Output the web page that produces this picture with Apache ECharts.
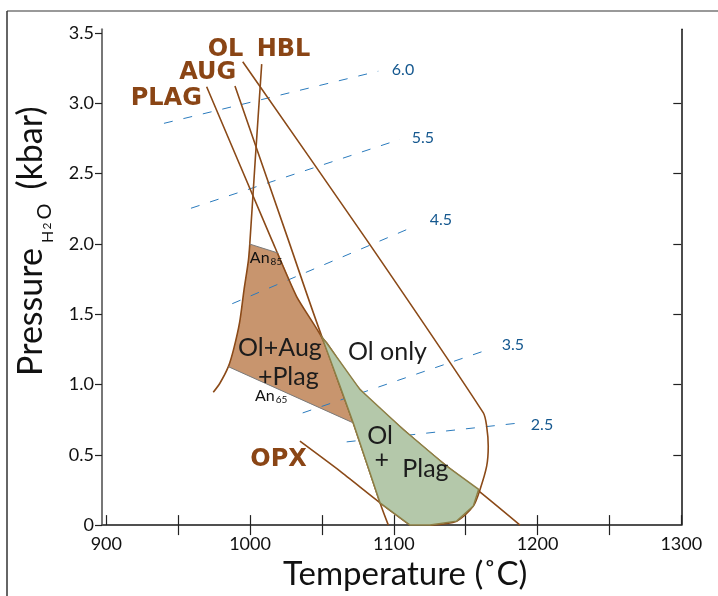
<!DOCTYPE html>
<html>
<head>
<meta charset="utf-8">
<script src="https://cdn.jsdelivr.net/npm/echarts@6/dist/echarts.min.js"></script>
<style>
  html, body { margin: 0; padding: 0; background: #fff; }
  #chart { width: 718px; height: 596px; }
</style>
</head>
<body>
<div id="chart"></div>
<script>
// axis ticks
const tempTicks = [900, 950, 1000, 1050, 1100, 1150, 1200, 1250, 1300];
const tempLabels = [900, 1000, 1100, 1200, 1300];
const presTicks = [0, 0.5, 1.0, 1.5, 2.0, 2.5, 3.0, 3.5];

// phase boundaries [T (°C), P (kbar)]
const plagLine = [[969.8, 3.118], [1015.1, 2.029], [1032.4, 1.626], [1050.0, 1.333], [1062.6, 0.987], [1071.8, 0.727], [1090.4, 0.159], [1096.2, 0]];
const augLine = [[989.5, 3.123], [1026.6, 2.029], [1050.0, 1.340], [1053.3, 1.295], [1076.5, 0.964], [1106.6, 0.680], [1136.8, 0.419], [1157.7, 0.254], [1187.8, 0]];
const olLine = [[994.9, 3.296], [1081.1, 2.029], [1162.3, 0.798], [1164.6, 0.703], [1165.7, 0.561], [1164.6, 0.419], [1160.0, 0.254], [1155.3, 0.135], [1143.7, 0.028], [1125.2, 0]];
const hblLine = [[1008.1, 3.279], [1003.6, 2.597], [1000.0, 2.029], [998.9, 1.887], [995.8, 1.674], [992.7, 1.440], [988.5, 1.248], [984.9, 1.127], [979.1, 1.011], [974.4, 0.945]];
const opxLine = [[1034.7, 0.597], [1062.6, 0.384], [1090.4, 0.159], [1111.3, 0]];
const an85Line = [[999.5, 2.0], [1019.6, 1.935]];
const an65Line = [[984.9, 1.127], [1071.8, 0.727]];

// fields
const brownArea = [[999.5, 2.0], [1019.6, 1.935], [1032.4, 1.626], [1050.0, 1.333], [1062.6, 0.987], [1071.8, 0.727], [984.9, 1.127], [988.5, 1.248], [992.7, 1.440], [995.8, 1.674], [998.9, 1.887]];
const greenArea = [[1050.0, 1.337], [1053.3, 1.295], [1076.5, 0.964], [1106.6, 0.680], [1136.8, 0.419], [1159.0, 0.254], [1155.3, 0.135], [1143.7, 0.028], [1125.2, 0], [1111.3, 0], [1090.4, 0.159], [1071.8, 0.727], [1062.6, 0.987]];

// water content isopleths
const waterLabels = ['6.0', '5.5', '4.5', '3.5', '2.5'];
const waterStart = [[940.1, 2.858], [958.9, 2.254], [987.6, 1.575], [1036.6, 0.798], [1067.2, 0.592]];
const waterEnd = [[1089.2, 3.229], [1104.3, 2.744], [1114.0, 2.124], [1166.9, 1.253], [1187.8, 0.727]];
const waterLabelPos = [[1106.4, 3.237], [1120.3, 2.754], [1132.8, 2.171], [1182.9, 1.283], [1203.1, 0.715]];

// phase names
const phaseNames = ['OL', 'HBL', 'AUG', 'PLAG', 'OPX'];
const phasePos = [[982.9, 3.383], [1023.3, 3.383], [970.6, 3.217], [941.7, 3.036], [1019.8, 0.467]];

// field names
const fieldNames = ['Ol+Aug', '+Plag', 'Ol only', 'Ol', '+', 'Plag'];
const fieldPos = [[1020.8, 1.262], [1026.6, 1.056], [1095.6, 1.234], [1090.4, 0.637], [1091.6, 0.46], [1122.0, 0.396]];

const anNames = ['85', '65'];
const anPos = [[1011.1, 1.901], [1014.7, 0.921]];

const FONT = 'Lato';
const BROWN = '#8b4a18';

const chart = echarts.init(document.getElementById('chart'));

const boundary = (data, smooth) => ({
    type: 'line',
    data: data,
    smooth: smooth,
    symbol: 'none',
    silent: true,
    z: 3,
    lineStyle: { color: BROWN, width: 1.6 }
});

const area = (pts, style, z) => ({
    type: 'custom',
    data: pts,
    encode: { x: 0, y: 1 },
    silent: true,
    z: z,
    renderItem: (params, api) => {
        if (params.dataIndex !== 0) return null;
        return {
            type: 'polygon',
            shape: { points: pts.map(p => api.coord(p)) },
            style: style
        };
    }
});

const series = [
    area(brownArea, { fill: '#c8956e' }, 1),
    boundary(plagLine, 0.2),
    boundary(augLine, 0.3),
    boundary(olLine, 0.25),
    boundary(hblLine, 0.3),
    boundary(opxLine, 0.2),
    area(greenArea, { fill: '#b4c8aa', stroke: '#8d7f45', lineWidth: 1.5 }, 4),
    {
        type: 'line', data: an85Line, symbol: 'none', silent: true, z: 3,
        lineStyle: { color: '#7a7a7a', width: 1 }
    },
    {
        type: 'line', data: an65Line, symbol: 'none', silent: true, z: 3,
        lineStyle: { color: '#7a7a7a', width: 1 }
    }
];

waterLabels.forEach((lab, i) => {
    series.push({
        type: 'line',
        data: [waterStart[i], waterEnd[i]],
        symbol: 'none',
        silent: true,
        z: 2,
        lineStyle: { color: '#2b7bbd', width: 1, type: [9, 11] }
    });
});

const plain = { textBorderWidth: 0, textShadowBlur: 0, opacity: 1 };
const textItems = [];
phaseNames.forEach((n, i) => textItems.push({
    name: n, value: phasePos[i],
    label: Object.assign({ fontFamily: 'DejaVu Sans', fontWeight: 'bold', fontSize: 24, color: '#8a4515' }, plain)
}));
fieldNames.forEach((n, i) => textItems.push({
    name: n, value: fieldPos[i],
    label: Object.assign({ fontFamily: FONT, fontSize: 25, color: '#1c1c1c' }, plain)
}));
waterLabels.forEach((n, i) => textItems.push({
    name: n, value: waterLabelPos[i],
    label: Object.assign({ fontFamily: FONT, fontSize: 16, color: '#15588f' }, plain)
}));
anNames.forEach((n, i) => textItems.push({
    name: 'An' + n, value: anPos[i],
    label: Object.assign({
        formatter: '{a|An}{s|' + n + '}',
        rich: {
            a: { fontFamily: FONT, fontSize: 16, color: '#111', lineHeight: 18 },
            s: { fontFamily: FONT, fontSize: 10, color: '#111', lineHeight: 18, verticalAlign: 'bottom', padding: [6, 0, 0, 1] }
        }
    }, plain)
}));

series.push({
    type: 'scatter',
    symbolSize: 0.1,
    silent: true,
    z: 6,
    itemStyle: { color: '#000', opacity: 1 },
    label: { show: true, position: 'inside', formatter: '{b}' },
    data: textItems
});

chart.setOption({
    animation: false,
    grid: { left: 102, right: 36.7, top: 29.3, bottom: 70.3 },
    xAxis: [{
        type: 'value',
        position: 'bottom',
        min: 897,
        max: 1300,
        name: 'Temperature (˚C)',
        nameLocation: 'middle',
        nameGap: 27,
        nameTextStyle: { fontFamily: FONT, fontSize: 33, color: '#111', padding: [0, 0, 0, 27] },
        axisLine: { lineStyle: { color: '#777', width: 2 } },
        axisTick: { inside: true, length: 10, customValues: tempTicks, lineStyle: { color: '#222', width: 1.2 } },
        axisLabel: { customValues: tempLabels, fontFamily: FONT, fontSize: 18, color: '#111', margin: 10, formatter: v => String(v) },
        splitLine: { show: false }
    }, {
        type: 'value',
        position: 'top',
        min: 897,
        max: 1300,
        axisLine: { lineStyle: { color: '#444', width: 1.5 } },
        axisTick: { inside: true, length: 10, customValues: tempTicks.slice(1, -1), lineStyle: { color: '#222', width: 1.2 } },
        axisLabel: { show: false },
        splitLine: { show: false }
    }],
    yAxis: [{
        type: 'value',
        position: 'left',
        min: 0,
        max: 3.527,
        axisLine: { show: true, lineStyle: { color: '#777', width: 2 } },
        axisTick: { show: true, inside: false, length: 7, customValues: presTicks, lineStyle: { color: '#222', width: 1.2 } },
        axisLabel: {
            customValues: presTicks, fontFamily: FONT, fontSize: 18, color: '#111', margin: 8,
            formatter: v => v === 0 ? '0' : v.toFixed(1)
        },
        splitLine: { show: false }
    }, {
        type: 'value',
        position: 'right',
        min: 0,
        max: 3.527,
        axisLine: { show: true, lineStyle: { color: '#111', width: 1.5 } },
        axisTick: { show: true, inside: true, length: 8, customValues: presTicks.slice(1, -1), lineStyle: { color: '#222', width: 1.2 } },
        axisLabel: { show: false },
        splitLine: { show: false }
    }],
    graphic: [
        { type: 'line', shape: { x1: 7, y1: 11, x2: 718, y2: 11 }, style: { stroke: '#777', lineWidth: 1.5 } },
        { type: 'line', shape: { x1: 7, y1: 11, x2: 7, y2: 596 }, style: { stroke: '#333', lineWidth: 1.5 } },
        { type: 'text', x: 31, y: 312, rotation: Math.PI / 2, style: { text: 'Pressure', font: '34px Lato', fill: '#111', align: 'center', verticalAlign: 'middle' } },
        { type: 'text', x: 48, y: 237, rotation: Math.PI / 2, style: { text: 'H', font: '16px Lato', fill: '#111', align: 'center', verticalAlign: 'middle' } },
        { type: 'text', x: 47, y: 226, rotation: Math.PI / 2, style: { text: '2', font: '12px Lato', fill: '#111', align: 'center', verticalAlign: 'middle' } },
        { type: 'text', x: 45, y: 211.5, rotation: Math.PI / 2, style: { text: 'O', font: '20px Lato', fill: '#111', align: 'center', verticalAlign: 'middle' } },
        { type: 'text', x: 31, y: 148, rotation: Math.PI / 2, style: { text: '(kbar)', font: '34px Lato', fill: '#111', align: 'center', verticalAlign: 'middle' } }
    ],
    series: series
});
</script>
</body>
</html>
